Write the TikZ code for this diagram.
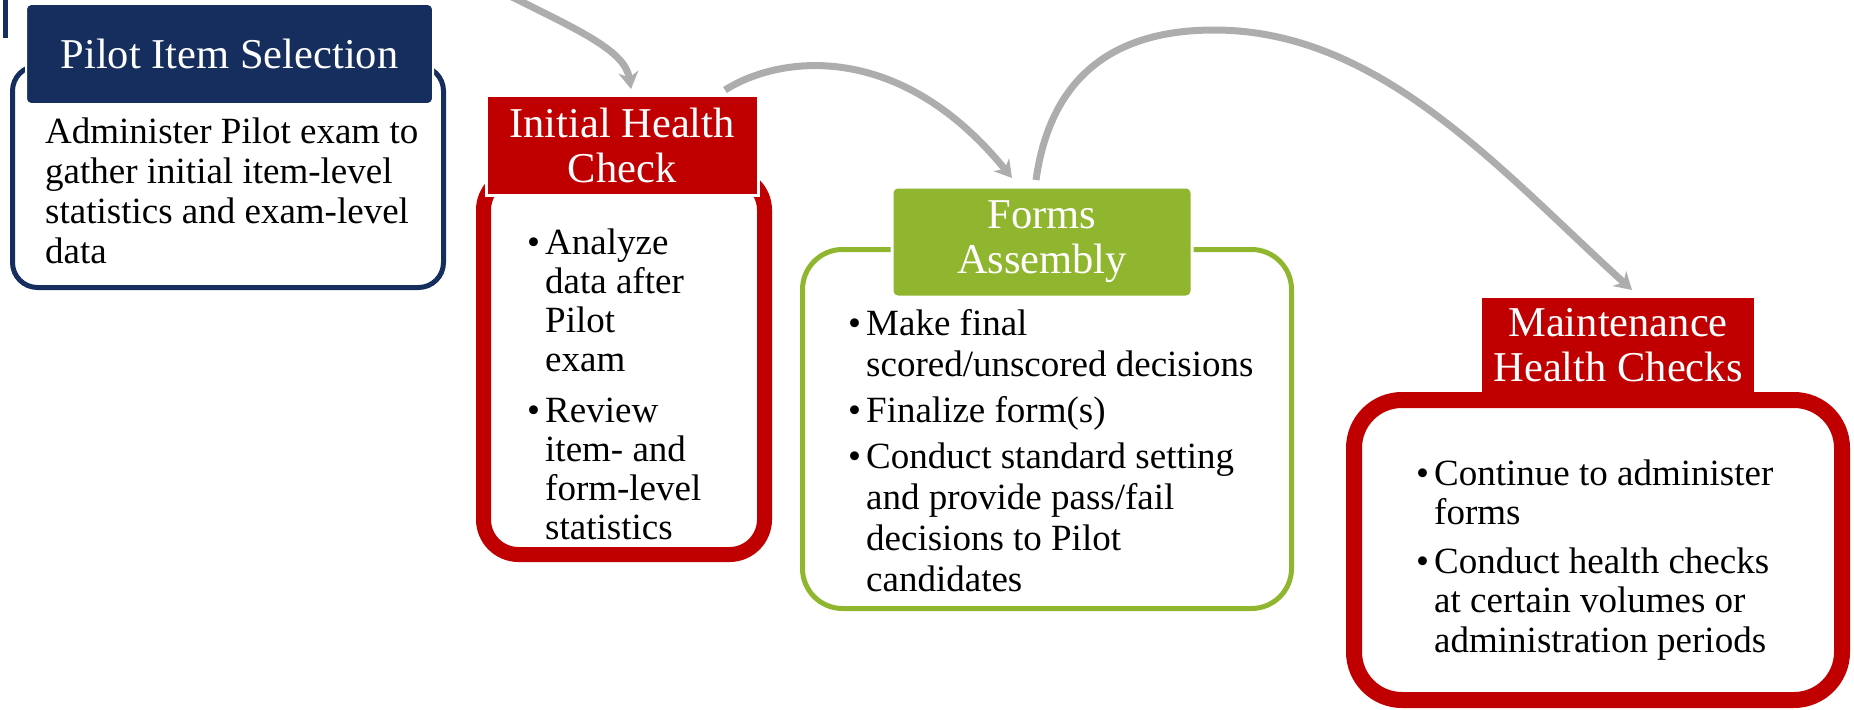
\documentclass[tikz,border=0pt]{standalone}
\usepackage{fontspec}
\setmainfont{Liberation Serif}
\usetikzlibrary{arrows.meta,calc}
\definecolor{navy}{RGB}{21,46,94}
\definecolor{cred}{RGB}{192,0,0}
\definecolor{cgreen}{RGB}{143,182,46}
\definecolor{arrowgray}{RGB}{173,173,173}
\newcommand\bul{\makebox[18pt][l]{\textbullet}}
\newcommand\ind{\hspace*{18pt}}
\begin{document}
\begin{tikzpicture}[x=1pt,y=-1pt,
  frame/.style={draw, fill=white, inner sep=0pt, outer sep=0pt},
  ttl/.style={inner sep=0pt, outer sep=0pt, text=white, align=center, font=\fontsize{42.5}{45}\selectfont},
  body/.style={inner sep=0pt, anchor=base west, align=left, font=\fontsize{37}{#1}\selectfont},
  flow/.style={draw=arrowgray, line width=7pt, -{Stealth[length=17pt,width=20pt]}}]
\useasboundingbox (0,0) rectangle (1854,709);

% small bar at top-left edge
\fill[navy] (3,0) rectangle (8,38);

% outlines
\node[frame, draw=navy, line width=5pt, rounded corners=25pt, minimum width=431pt, minimum height=221.5pt] (o1) at (228,176.75) {};
\node[frame, draw=cred, line width=15pt, rounded corners=35pt, minimum width=281pt, minimum height=379.5pt] (o2) at (624,364.75) {};
\node[frame, draw=cgreen, line width=5pt, rounded corners=40pt, minimum width=489pt, minimum height=359pt] (o3) at (1047,429) {};
\node[frame, draw=cred, line width=16pt, rounded corners=48pt, minimum width=488pt, minimum height=300pt] (o4) at (1598,550) {};

% title boxes
\node[ttl, fill=navy, draw=white, line width=2pt, rounded corners=5pt, minimum width=407pt, minimum height=100pt] (t1) at (229.5,54) {Pilot Item Selection};
\node[ttl, fill=cred, draw=white, line width=3pt, minimum width=272pt, minimum height=100pt] (t2) at (622,145) {Initial Health\\Check};
\node[ttl, fill=cgreen, draw=white, line width=3pt, rounded corners=6pt, minimum width=300pt, minimum height=110pt] (t3) at (1042,242) {Forms\\Assembly};
\node[ttl, fill=cred, minimum width=272pt, minimum height=94pt] (t4) at (1618,345) {Maintenance\\Health Checks};

% body texts (anchored at the baseline of the last line)
\node[body=40] (b1) at (45,263) {Administer Pilot exam to\\gather initial item-level\\statistics and exam-level\\data};
\node[body=39] (b2) at (527,539) {\bul Analyze\\\ind data after\\\ind Pilot\\\ind exam\\[12pt]\bul Review\\\ind item- and\\\ind form-level\\\ind statistics};
\node[body=41] (b3) at (848,591) {\bul Make final\\\ind scored/unscored decisions\\[5pt]\bul Finalize form(s)\\[5pt]\bul Conduct standard setting\\\ind and provide pass/fail\\\ind decisions to Pilot\\\ind candidates};
\node[body=39.5] (b4) at (1416,652) {\bul Continue to administer\\\ind forms\\[9pt]\bul Conduct health checks\\\ind at certain volumes or\\\ind administration periods};

% connectors
\coordinate (a0) at (500,-9);
\draw[flow] (a0) .. controls (578,30) and (625,50) .. ($(t2.north)+(9,-6)$);
\draw[flow] ($(t2.north east)+(-33,-5)$) .. controls (780,55) and (900,40) .. ($(t3.north)+(-30,-9)$);
\draw[flow] ($(t3.north)+(-6,-7)$) .. controls (1050,80) and (1110,30) .. (1214,30) .. controls (1380,30) and (1500,170) .. ($(t4.north)+(14,-8)$);
\end{tikzpicture}
\end{document}
